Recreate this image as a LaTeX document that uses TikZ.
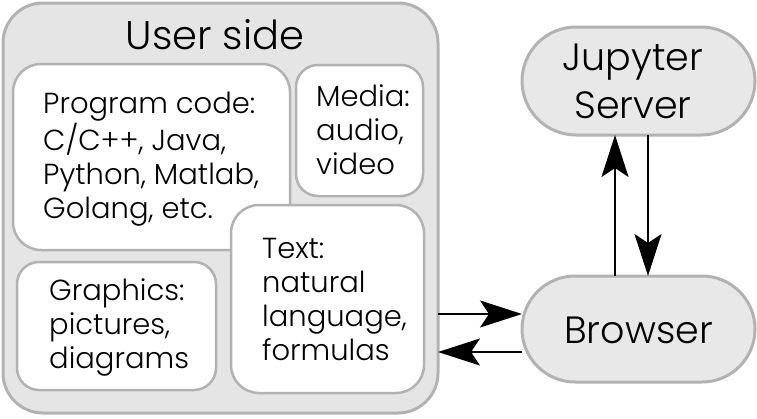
\documentclass[tikz,border=0pt]{standalone}
\usepackage{fontspec}
\setmainfont{Poppins Light}
\usetikzlibrary{arrows.meta}
\definecolor{boxline}{gray}{0.70}
\definecolor{boxfill}{gray}{0.90}
\definecolor{termfill}{gray}{0.91}
\tikzset{
  outerbox/.style={draw=boxline, fill=boxfill, line width=3pt, rounded corners=40pt, inner sep=0pt, outer sep=0pt},
  innerbox/.style={draw=boxline, fill=white, line width=2.5pt, inner sep=0pt, outer sep=0pt},
  termbox/.style={draw=boxline, fill=termfill, line width=3pt, inner sep=0pt, outer sep=0pt, minimum width=233pt},
  bodytext/.style={align=left, anchor=base west, inner sep=0pt, font=\fontsize{29}{34}\selectfont},
  termtext/.style={align=center, anchor=base, inner sep=0pt, font=\fontsize{38}{48}\selectfont},
  flow/.style={line width=2pt, -{Stealth[length=42pt,width=27pt,inset=9pt]}}
}
\begin{document}
\begin{tikzpicture}[x=1pt,y=-1pt]
\useasboundingbox (0,0) rectangle (757,418);
\node[outerbox, minimum width=435pt, minimum height=410pt] (user) at (220.5,208) {};
\node[anchor=base, inner sep=0pt, font=\fontsize{40}{48}\selectfont] (title) at (215,49) {User side};
\node[innerbox, rounded corners=28pt, minimum width=277pt, minimum height=186pt] (prog) at (151.5,157) {};
\node[innerbox, rounded corners=22pt, minimum width=127pt, minimum height=131pt] (media) at (359.5,130.5) {};
\node[innerbox, rounded corners=28pt, minimum width=193pt, minimum height=188pt] (textb) at (327.5,299) {};
\node[innerbox, rounded corners=22pt, minimum width=199pt, minimum height=128pt] (graph) at (116.5,326) {};
\node[bodytext] (progt) at (43,218) {Program code:\\C/C++, Java,\\Python, Matlab,\\Golang, etc.};
\node[bodytext] (mediat) at (316,174) {Media:\\audio,\\video};
\node[bodytext] (textt) at (262,360) {Text:\\natural\\language,\\formulas};
\node[bodytext] (grapht) at (49,368) {Graphics:\\pictures,\\diagrams};
\node[termbox, rounded corners=54pt, minimum height=108pt] (jup) at (638.5,81) {};
\node[termtext] (jupt) at (633,118) {Jupyter\\Server};
\node[termbox, rounded corners=53pt, minimum height=106pt] (brow) at (638.5,329) {};
\node[termtext] (browt) at (638.5,343) {Browser};
\draw[flow] (brow.north -| 615,0) -- (jup.south -| 615,0);
\draw[flow] (jup.south -| 648,0) -- (brow.north -| 648,0);
\draw[flow] (user.east |- 0,314) -- (brow.west |- 0,314);
\draw[flow] (brow.west |- 0,352) -- (user.east |- 0,352);
\end{tikzpicture}
\end{document}
